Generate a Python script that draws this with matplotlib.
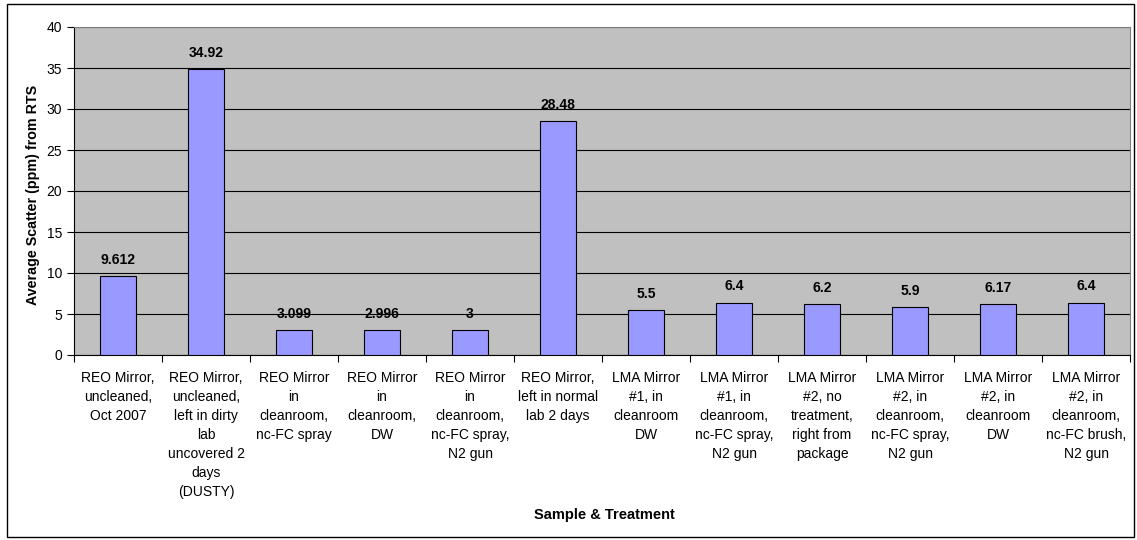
import matplotlib.pyplot as plt
import numpy as np

plt.rcParams['font.family'] = ['Liberation Sans', 'DejaVu Sans']

samples = [
    'REO Mirror,\nuncleaned,\nOct 2007',
    'REO Mirror,\nuncleaned,\nleft in dirty\nlab\nuncovered 2\ndays\n(DUSTY)',
    'REO Mirror\nin\ncleanroom,\nnc-FC spray',
    'REO Mirror\nin\ncleanroom,\nDW',
    'REO Mirror\nin\ncleanroom,\nnc-FC spray,\nN2 gun',
    'REO Mirror,\nleft in normal\nlab 2 days',
    'LMA Mirror\n#1, in\ncleanroom\nDW',
    'LMA Mirror\n#1, in\ncleanroom,\nnc-FC spray,\nN2 gun',
    'LMA Mirror\n#2, no\ntreatment,\nright from\npackage',
    'LMA Mirror\n#2, in\ncleanroom,\nnc-FC spray,\nN2 gun',
    'LMA Mirror\n#2, in\ncleanroom\nDW',
    'LMA Mirror\n#2, in\ncleanroom,\nnc-FC brush,\nN2 gun',
]
scatter = [9.612, 34.92, 3.099, 2.996, 3, 28.48, 5.5, 6.4, 6.2, 5.9, 6.17, 6.4]
value_labels = ['9.612', '34.92', '3.099', '2.996', '3', '28.48',
                '5.5', '6.4', '6.2', '5.9', '6.17', '6.4']

fig = plt.figure(figsize=(11.37, 5.40), dpi=100)
ax = fig.add_axes([74 / 1137, 1 - 355 / 540, (1130 - 74) / 1137, (355 - 27) / 540])

# outer frame round the whole chart
fig.patches.append(plt.Rectangle((7 / 1137, 3 / 540), 1127 / 1137, 533 / 540,
                                 transform=fig.transFigure, fill=False,
                                 edgecolor='black', linewidth=1))

x = np.arange(len(scatter))
ax.set_facecolor('#C0C0C0')
ax.bar(x, scatter, width=0.41, color='#9999FF', edgecolor='black',
       linewidth=0.8, zorder=3)

for xi, v, lab in zip(x, scatter, value_labels):
    ax.text(xi, v + 1.1, lab, ha='center', va='bottom', fontsize=10,
            fontweight='bold', zorder=4)

ax.set_xlim(-0.5, len(scatter) - 0.5)
ax.set_ylim(0, 40)
ax.set_yticks(range(0, 41, 5))
ax.yaxis.grid(True, color='black', linewidth=0.8, zorder=0)
ax.set_axisbelow(True)

ax.set_xticks(np.arange(-0.5, len(scatter), 1.0))
ax.set_xticklabels([])
ax.set_xticks(x, minor=True)
ax.set_xticklabels(samples, minor=True, fontsize=10, linespacing=1.46,
                   va='top')
ax.tick_params(axis='x', which='minor', length=0, pad=11.5)
ax.tick_params(axis='x', which='major', length=5, direction='out')
ax.tick_params(axis='y', labelsize=10, length=5, direction='out')

for side in ['top', 'right']:
    ax.spines[side].set_color('#808080')
ax.spines['left'].set_color('black')
ax.spines['bottom'].set_color('black')

fig.text(604 / 1137, 1 - 515 / 540, 'Sample & Treatment', ha='center',
         va='center', fontsize=10.5, fontweight='bold')
fig.text(33 / 1137, 1 - 195 / 540, 'Average Scatter (ppm) from RTS',
         ha='center', va='center', rotation=90, fontsize=10.3,
         fontweight='bold')

fig.savefig('out.png', dpi=100)
